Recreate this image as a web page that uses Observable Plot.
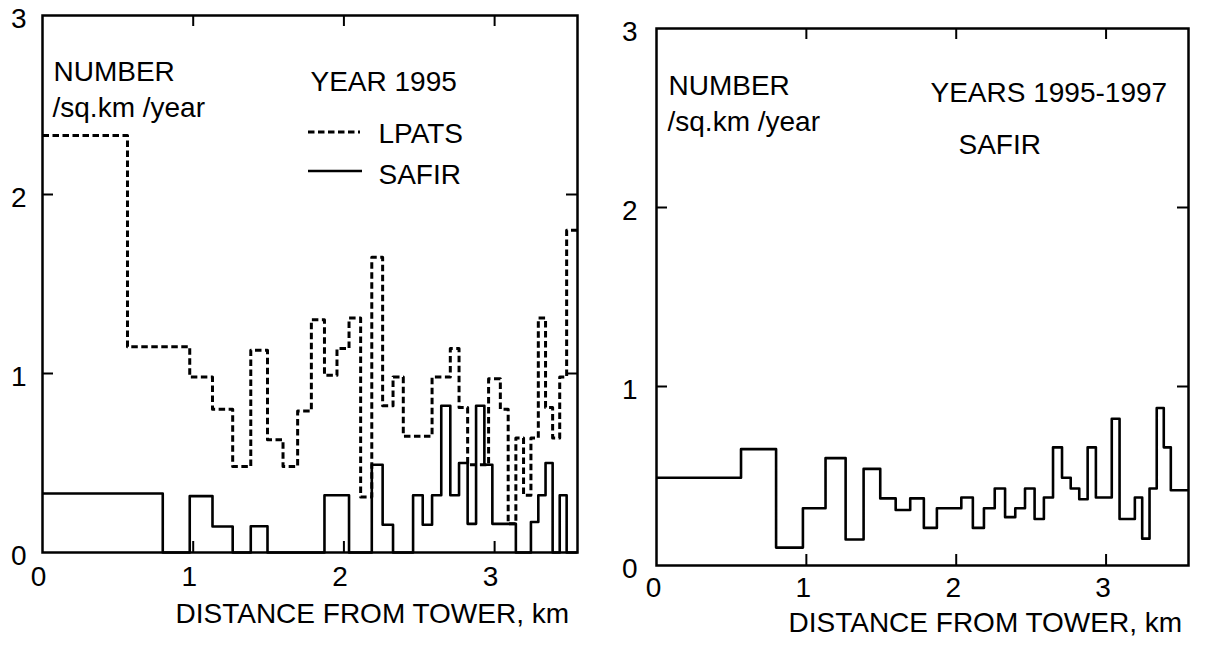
<!DOCTYPE html>
<html><head><meta charset="utf-8">
<script src="https://cdn.jsdelivr.net/npm/d3@7"></script>
<script src="https://cdn.jsdelivr.net/npm/@observablehq/plot@0.6"></script>
<style>
body{margin:0;background:#fff;}
#wrap{position:relative;width:1208px;height:646px;overflow:hidden;background:#fff;}
#left,#right{position:absolute;top:0;}
#left{left:0;} #right{left:604px;}
#legend{position:absolute;left:0;top:0;pointer-events:none;}
</style></head><body>
<div id="wrap"><div id="left"></div><div id="right"></div>
<svg id="legend" width="1208" height="646">
  <line x1="308" y1="132" x2="360" y2="132" stroke="black" stroke-width="3" stroke-dasharray="6.5,3.5"/>
  <line x1="308" y1="171" x2="362" y2="171" stroke="black" stroke-width="2.6"/>
</svg></div>
<script>
// Tick values
const xTicks = [0, 1, 2, 3];
const yTicks = [0, 1, 2, 3];
const xDomain = [0, 3.55];
const yDomain = [0, 3];

// Left panel, year 1995 — LPATS (dashed)
const lpatsEdges = [0, 0.564, 0.977, 1.128, 1.262, 1.382, 1.493, 1.596, 1.693, 1.784,
  1.871, 1.954, 2.034, 2.111, 2.185, 2.257, 2.326, 2.394, 2.585, 2.706,
  2.764, 2.821, 2.96, 3.038, 3.09, 3.141, 3.192, 3.241, 3.29, 3.338,
  3.385, 3.432, 3.478, 3.55];
const lpatsValues = [2.33, 1.15, 0.98, 0.80, 0.48, 1.13, 0.63, 0.48, 0.79, 1.30,
  0.99, 1.14, 1.31, 0.31, 1.65, 0.82, 0.98, 0.65, 0.98, 1.14,
  0.81, 0.49, 0.97, 0.80, 0.16, 0.64, 0.32, 0.64, 1.31, 0.81,
  0.64, 0.98, 1.80];

// Left panel, year 1995 — SAFIR (solid)
const safir95Edges = [0, 0.798, 0.977, 1.128, 1.262, 1.382, 1.493, 1.871, 2.034, 2.185,
  2.257, 2.326, 2.459, 2.523, 2.585, 2.646, 2.706, 2.764, 2.821, 2.877,
  2.932, 2.985, 3.141, 3.241, 3.29, 3.338, 3.385, 3.432, 3.478, 3.55];
const safir95Values = [0.33, 0, 0.315, 0.145, 0, 0.147, 0, 0.32, 0, 0.49,
  0.155, 0, 0.32, 0.155, 0.32, 0.82, 0.32, 0.50, 0.16, 0.82,
  0.49, 0.16, 0, 0.17, 0.32, 0.50, 0, 0.32, 0];

// Right panel, years 1995-1997 — SAFIR
const safirAllEdges = [0, 0.564, 0.798, 0.977, 1.128, 1.262, 1.382, 1.493, 1.596, 1.693,
  1.784, 1.871, 2.034, 2.111, 2.185, 2.257, 2.326, 2.394, 2.459, 2.523,
  2.585, 2.646, 2.706, 2.764, 2.821, 2.877, 2.932, 3.038, 3.09, 3.192,
  3.241, 3.29, 3.338, 3.385, 3.432, 3.55];
const safirAllValues = [0.49, 0.65, 0.10, 0.32, 0.60, 0.145, 0.54, 0.375, 0.31, 0.375,
  0.21, 0.32, 0.38, 0.21, 0.32, 0.43, 0.27, 0.32, 0.43, 0.26,
  0.38, 0.66, 0.49, 0.43, 0.37, 0.66, 0.38, 0.82, 0.26, 0.38,
  0.15, 0.43, 0.88, 0.66, 0.42];

const FONT = '"Liberation Sans", Arial, Helvetica, sans-serif';
const H = 646;

function steps(edges, values) {
  return edges.map((e, i) => ({x: e, y: values[Math.min(i, values.length - 1)]}));
}

function label(t, dx, dy, anchor = "top-left") {
  return Plot.text([t], {text: d => d, frameAnchor: anchor, dx, dy, textAnchor: "start",
    lineAnchor: "middle", fontSize: 28, fill: "black"});
}

function panel({width, mL, mR, mT, mB, series, texts, xPad, yPad, xdx}) {
  const ph = H - mT - mB, pw = width - mL - mR, tk = 11;
  return Plot.plot({
    width, height: H, marginLeft: mL, marginRight: mR, marginTop: mT, marginBottom: mB,
    style: {fontFamily: FONT, fontSize: "28px", color: "black", background: "white", overflow: "visible"},
    x: {domain: xDomain, label: null},
    y: {domain: yDomain, label: null},
    marks: [
      ...series.map(s => Plot.line(steps(s.edges, s.values), {
        x: "x", y: "y", curve: "step-after", stroke: "black",
        strokeWidth: s.sw, strokeDasharray: s.dash, strokeLinecap: "butt"})),
      Plot.frame({stroke: "black", strokeWidth: 2.5}),
      Plot.tickX(xTicks.slice(1), {x: d => d, insetTop: ph - tk, stroke: "black", strokeWidth: 2}),
      Plot.tickX(xTicks.slice(1), {x: d => d, insetBottom: ph - tk, stroke: "black", strokeWidth: 2}),
      Plot.tickY(yTicks.slice(1, 3), {y: d => d, insetRight: pw - tk, stroke: "black", strokeWidth: 2}),
      Plot.tickY(yTicks.slice(1, 3), {y: d => d, insetLeft: pw - tk, stroke: "black", strokeWidth: 2}),
      Plot.axisX(xTicks, {tickSize: 0, tickPadding: xPad, dx: xdx, fontSize: 28, tickFormat: d => String(d)}),
      Plot.axisY(yTicks, {tickSize: 0, tickPadding: yPad, dy: 4, fontSize: 28, tickFormat: d => String(d)}),
      ...texts
    ]
  });
}

const left = panel({
  width: 600, mL: 42, mR: 23, mT: 15, mB: 94, xPad: 14, yPad: 16, xdx: -4,
  series: [
    {edges: lpatsEdges, values: lpatsValues, sw: 3, dash: "6.5,3.5"},
    {edges: safir95Edges, values: safir95Values, sw: 2.6, dash: null}
  ],
  texts: [
    label("NUMBER", 11, 57),
    label("/sq.km /year", 10, 93),
    label("YEAR 1995", 268, 67),
    label("LPATS", 336, 119),
    label("SAFIR", 336, 160),
    label("DISTANCE FROM TOWER, km", 133, 62, "bottom-left")
  ]
});

const right = panel({
  width: 604, mL: 52, mR: 20, mT: 28, mB: 81, xPad: 12, yPad: 19, xdx: -3,
  series: [
    {edges: safirAllEdges, values: safirAllValues, sw: 2.6, dash: null}
  ],
  texts: [
    label("NUMBER", 12, 58),
    label("/sq.km /year", 11, 94),
    label("YEARS 1995-1997", 274, 65),
    label("SAFIR", 302, 117),
    label("DISTANCE FROM TOWER, km", 132, 58, "bottom-left")
  ]
});

document.getElementById("left").appendChild(left);
document.getElementById("right").appendChild(right);
</script>
</body></html>
